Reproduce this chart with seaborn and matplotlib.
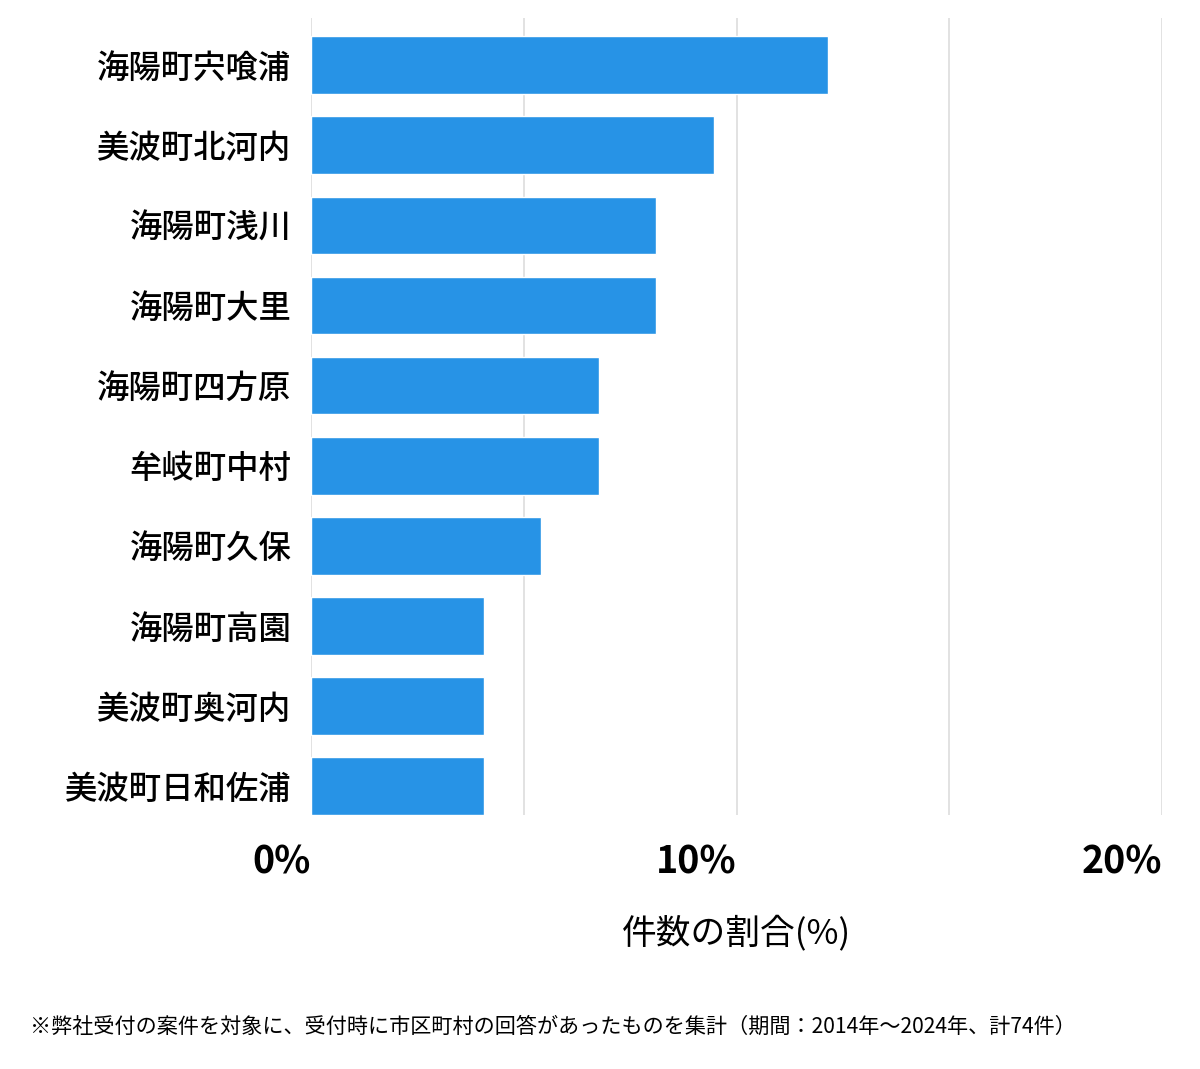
import matplotlib
matplotlib.use("Agg")
import matplotlib.pyplot as plt
import seaborn as sns
import pandas as pd

# area names and counts (total 74 cases)
areas = ['海陽町宍喰浦', '美波町北河内', '海陽町浅川', '海陽町大里', '海陽町四方原',
         '牟岐町中村', '海陽町久保', '海陽町高園', '美波町奥河内', '美波町日和佐浦']
counts = [9, 7, 6, 6, 5, 5, 4, 3, 3, 3]
total = 74
x_ticks = [0, 10, 20]
x_tick_labels = ['0%', '10%', '20%']
grid_lines = [0, 5, 10, 15, 20]

sns.set_theme(style='white')
plt.rcParams['font.family'] = ['Noto Sans CJK JP', 'DejaVu Sans']
plt.rcParams['text.color'] = 'black'
plt.rcParams['xtick.color'] = 'black'
plt.rcParams['ytick.color'] = 'black'
plt.rcParams['axes.labelcolor'] = 'black'

df = pd.DataFrame({'area': areas, 'pct': [c / total * 100 for c in counts]})

fig = plt.figure(figsize=(12, 10.69), dpi=100)
ax = fig.add_axes([0.2592, 0.2376, 0.7091, 0.7456])

for g in grid_lines:
    ax.axvline(g, color='#dddddd', lw=1.2, zorder=0)

sns.barplot(data=df, y='area', x='pct', orient='h', color='#2793e6',
            saturation=1, width=0.72, ax=ax, zorder=2)

ax.set_xlim(0, 20)
ax.set_ylim(9.36, -0.59)
for s in ax.spines.values():
    s.set_visible(False)

ax.set_xticks(x_ticks)
ax.set_xticklabels(x_tick_labels, fontsize=27, fontweight='bold', ha='right')
ax.tick_params(axis='x', length=0, pad=20)
ax.tick_params(axis='y', length=0, pad=14, labelsize=23.3)
for lbl in ax.get_yticklabels():
    lbl.set_fontweight('medium')
ax.set_ylabel('')
ax.set_xlabel('件数の割合(%)', fontsize=25, labelpad=24)

fig.text(0.025, 0.039, '※弊社受付の案件を対象に、受付時に市区町村の回答があったものを集計（期間：2014年～2024年、計74件）',
         fontsize=15.2, ha='left', va='center')

fig.savefig('out.png', dpi=100, facecolor='white')
